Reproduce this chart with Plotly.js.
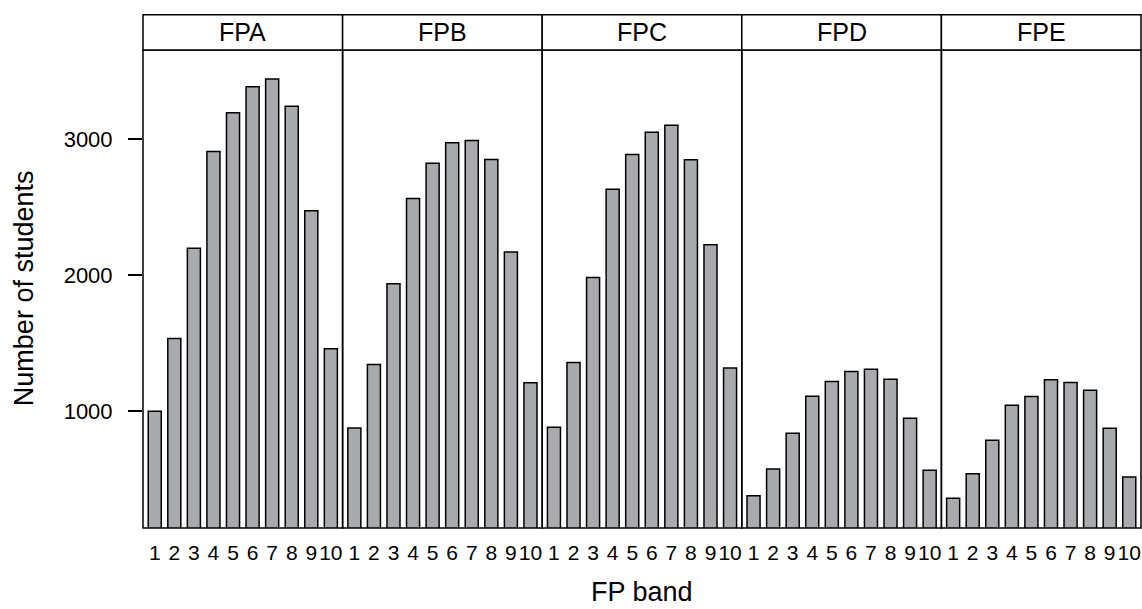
<!DOCTYPE html>
<html>
<head>
<meta charset="utf-8">
<script src="https://cdn.plot.ly/plotly-3.0.1.min.js"></script>
<style>html,body{margin:0;padding:0;background:#fff;}#chart{width:1142px;height:609px;}</style>
</head>
<body>
<div id="chart"></div>
<script>
const bands = ['1','2','3','4','5','6','7','8','9','10'];
const panels = ['FPA','FPB','FPC','FPD','FPE'];
const fpa = [997,1532,2197,2909,3194,3385,3442,3241,2472,1456];
const fpb = [874,1341,1935,2563,2821,2973,2990,2850,2168,1206];
const fpc = [879,1356,1981,2630,2887,3049,3101,2848,2222,1316];
const fpd = [376,572,835,1108,1216,1289,1306,1233,946,563];
const fpe = [356,538,784,1041,1105,1228,1208,1152,872,513];
const series = [fpa, fpb, fpc, fpd, fpe];
const yTicks = [1000, 2000, 3000];

const FONT = 'Liberation Sans, Arial, Helvetica, sans-serif';
const yRange = [138, 3655];
const stripTop = 1 + (50 - 14.7) / 477.7;

const xpos = bands.map((b, i) => i + 1);
const traces = series.map((vals, k) => ({
  type: 'bar',
  x: xpos,
  y: vals,
  xaxis: k === 0 ? 'x' : 'x' + (k + 1),
  yaxis: 'y',
  width: 2 / 3,
  marker: {color: '#a9aaae', line: {color: '#000', width: 1.5}},
  hoverinfo: 'x+y',
  showlegend: false
}));
// invisible trace for right-side mirrored ticks
traces.push({type: 'scatter', x: [], y: [], xaxis: 'x5', yaxis: 'y2', showlegend: false});

const layout = {
  width: 1142, height: 609,
  margin: {l: 143, r: 1, t: 50, b: 81},
  paper_bgcolor: '#fff', plot_bgcolor: '#fff',
  font: {family: FONT, color: '#000', size: 16},
  showlegend: false,
  bargap: 0,
  yaxis: {
    range: yRange, tickvals: yTicks, ticktext: yTicks.map(String),
    ticks: 'outside', ticklen: 14, tickwidth: 1.5, tickcolor: '#000',
    ticklabelstandoff: 11,
    showgrid: false, zeroline: false, showline: false,
    tickfont: {family: FONT, size: 22, color: '#000'}, anchor: 'x'
  },
  yaxis2: {
    range: yRange, tickvals: yTicks, overlaying: 'y', side: 'right', anchor: 'x5',
    ticks: 'outside', ticklen: 9, tickwidth: 1.5, tickcolor: '#000',
    showticklabels: false, showgrid: false, zeroline: false, showline: false
  },
  shapes: [],
  annotations: []
};

panels.forEach((name, k) => {
  const key = k === 0 ? 'xaxis' : 'xaxis' + (k + 1);
  layout[key] = {
    domain: [k / 5, (k + 1) / 5],
    range: [0.4, 10.6],
    tickvals: xpos, ticktext: bands,
    ticks: 'outside', ticklen: 6, tickcolor: 'rgba(0,0,0,0)',
    showgrid: false, zeroline: false, showline: false,
    tickfont: {family: FONT, size: 21, color: '#000'},
    anchor: 'y', fixedrange: true
  };
  layout.shapes.push({type: 'rect', xref: 'paper', yref: 'paper', x0: k / 5, x1: (k + 1) / 5, y0: 0, y1: 1,
    line: {color: '#000', width: 1.5}, fillcolor: 'rgba(0,0,0,0)'});
  layout.shapes.push({type: 'rect', xref: 'paper', yref: 'paper', x0: k / 5, x1: (k + 1) / 5, y0: 1, y1: stripTop,
    line: {color: '#000', width: 1.5}, fillcolor: '#fff'});
  layout.annotations.push({xref: 'paper', yref: 'paper', x: (k + 0.5) / 5, y: (1 + stripTop) / 2,
    text: name, showarrow: false, xanchor: 'center', yanchor: 'middle',
    font: {family: FONT, size: 25, color: '#000'}});
});

layout.annotations.push({xref: 'paper', yref: 'paper', x: 0.5, y: (527.7 - 592) / 477.7,
  text: 'FP band', showarrow: false, xanchor: 'center', yanchor: 'middle',
  font: {family: FONT, size: 27, color: '#000'}});
layout.annotations.push({xref: 'paper', yref: 'paper', x: (24 - 143) / 998, y: (527.7 - 288) / 477.7,
  text: 'Number of students', showarrow: false, textangle: -90, xanchor: 'center', yanchor: 'middle',
  font: {family: FONT, size: 27, color: '#000'}});

Plotly.newPlot('chart', traces, layout, {displayModeBar: false, staticPlot: true});
</script>
</body>
</html>
